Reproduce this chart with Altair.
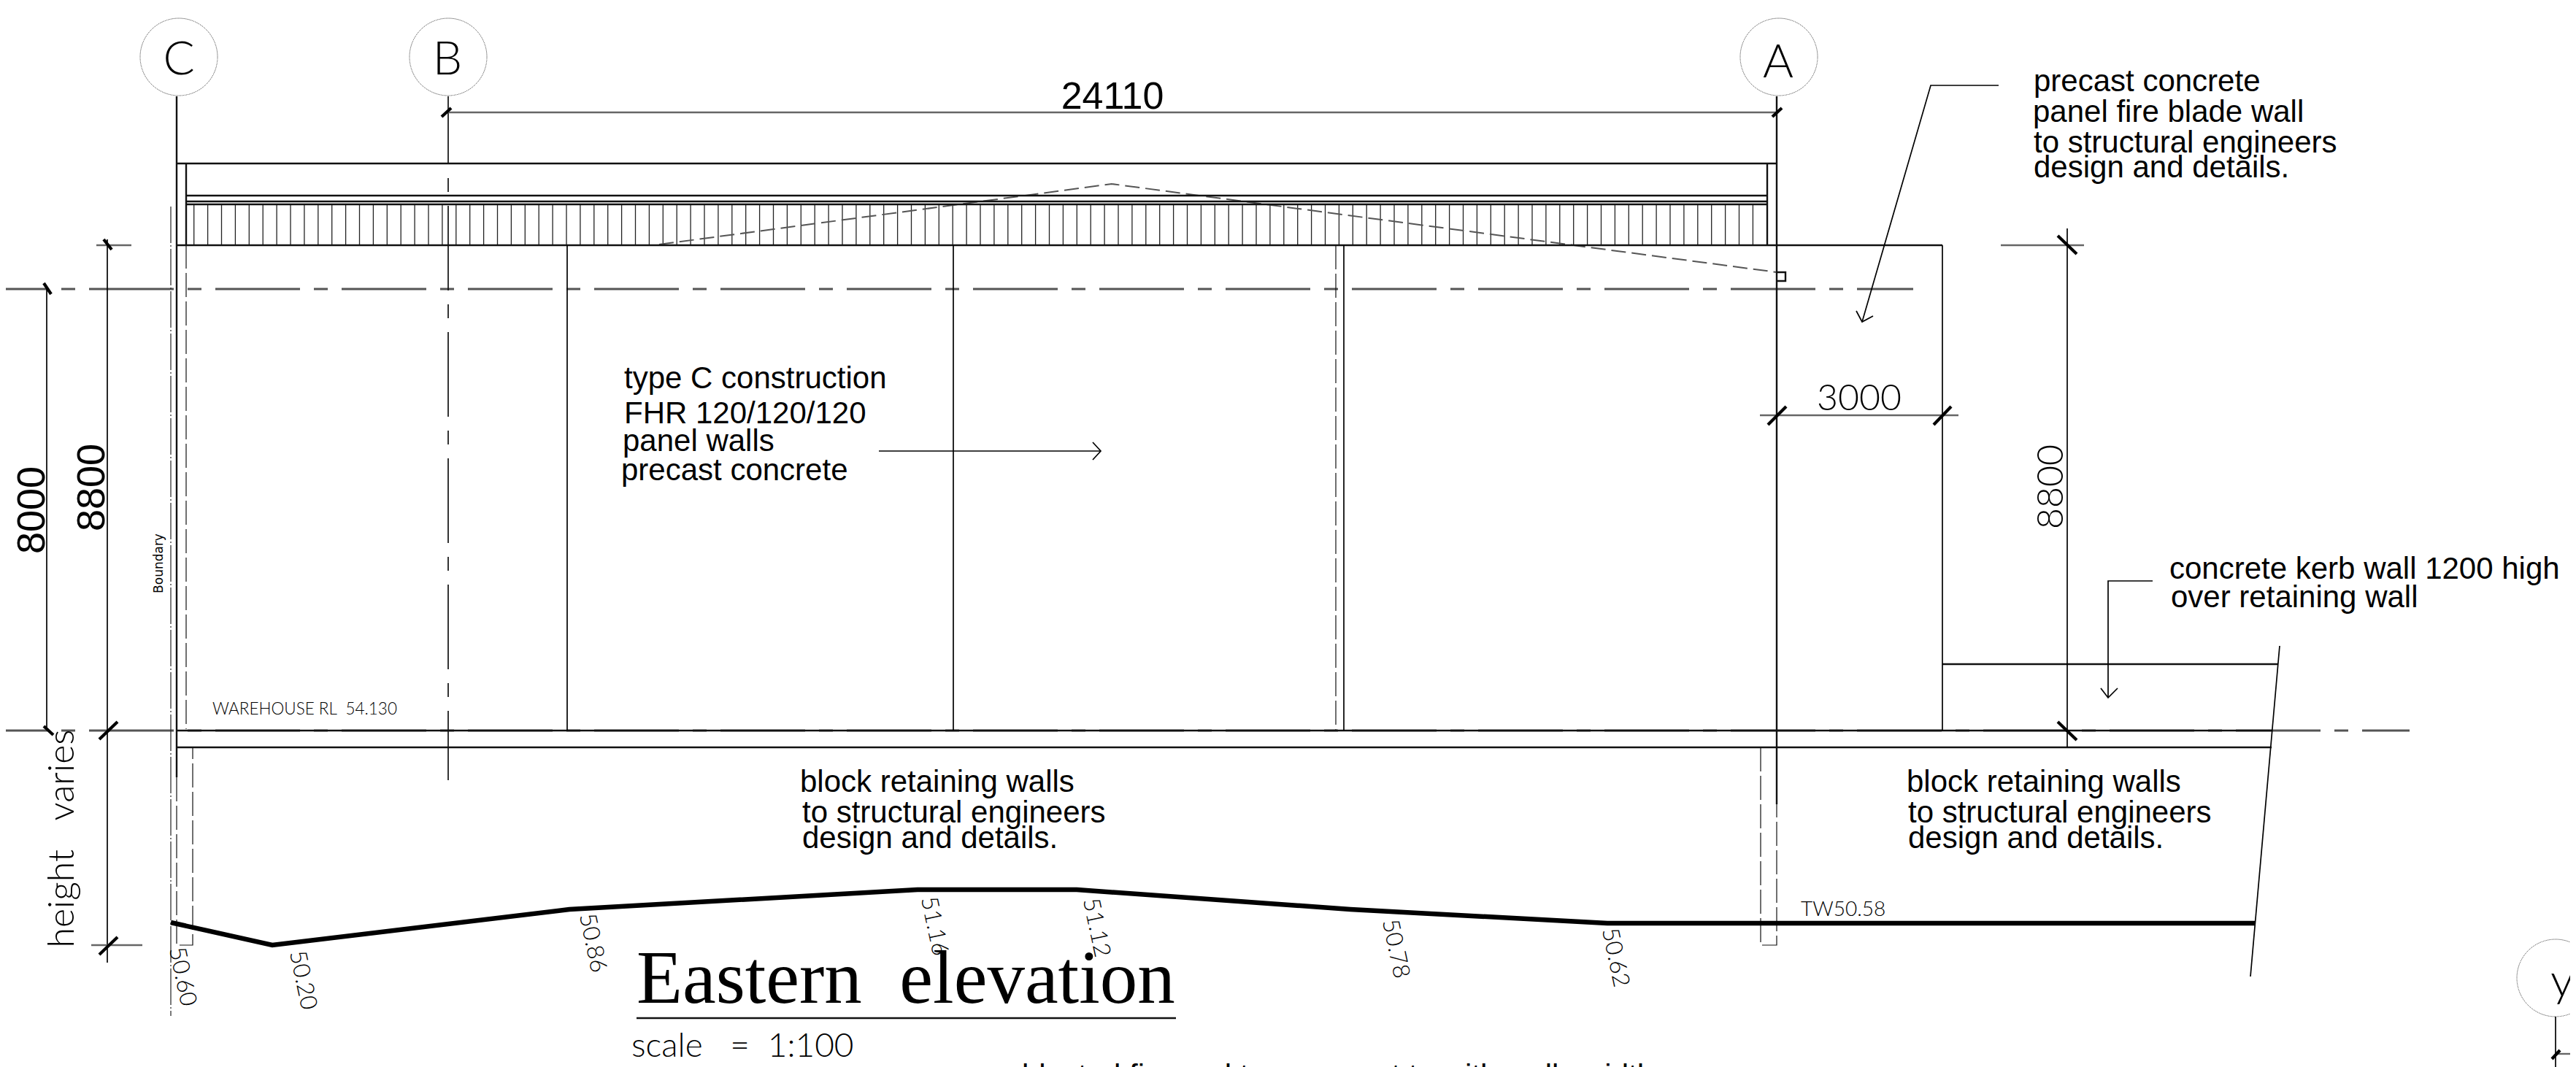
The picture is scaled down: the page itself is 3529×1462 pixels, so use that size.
import altair as alt
import pandas as pd

# ---- drawing values (pixel-space drawing units) ----
X0, X1, Y0, Y1 = 8, 3521, 8, 1462

hatch_x = [265.7, 284.6, 303.5, 322.4, 341.3, 360.2, 379.1, 398.0, 416.9, 435.8,
           454.7, 473.6, 492.5, 511.4, 530.3, 549.2, 568.1, 587.0, 605.9, 624.8,
           643.7, 662.6, 681.5, 700.4, 719.3, 738.2, 757.1, 776.0, 794.9, 813.8,
           832.7, 851.6, 870.5, 889.4, 908.3, 927.2, 946.1, 965.0, 983.9, 1002.8,
           1021.7, 1040.6, 1059.5, 1078.4, 1097.3, 1116.2, 1135.1, 1154.0, 1172.9, 1191.8,
           1210.7, 1229.6, 1248.5, 1267.4, 1286.3, 1305.2, 1324.1, 1343.0, 1361.9, 1380.8,
           1399.7, 1418.6, 1437.5, 1456.4, 1475.3, 1494.2, 1513.1, 1532.0, 1550.9, 1569.8,
           1588.7, 1607.6, 1626.5, 1645.4, 1664.3, 1683.2, 1702.1, 1721.0, 1739.9, 1758.8,
           1777.7, 1796.6, 1815.5, 1834.4, 1853.3, 1872.2, 1891.1, 1910.0, 1928.9, 1947.8,
           1966.7, 1985.6, 2004.5, 2023.4, 2042.3, 2061.2, 2080.1, 2099.0, 2117.9, 2136.8,
           2155.7, 2174.6, 2193.5, 2212.4, 2231.3, 2250.2, 2269.1, 2288.0, 2306.9, 2325.8,
           2344.7, 2363.6, 2382.5, 2401.4]

structure = [
    [(242, 132), (242, 1065)],
    [(2434, 132), (2434, 1102)],
    [(255, 224), (255, 336)],
    [(2421, 224), (2421, 336)],
    [(242, 224), (2434, 224)],
    [(255, 268), (2421, 268)],
    [(255, 276), (2421, 276)],
    [(255, 280), (2421, 280)],
    [(242, 336), (2661, 336)],
    [(242, 1001), (3112, 1001)],
    [(242, 1024), (3112, 1024)],
    [(2661, 910), (3121, 910)],
    [(872, 1395), (1611, 1395)],
    [(2434, 373), (2446, 373), (2446, 385), (2434, 385)],
]
thin = [
    [(777, 336), (777, 1001)],
    [(1306, 336), (1306, 1001)],
    [(1841, 336), (1841, 1001)],
    [(2661, 336), (2661, 1001)],
    [(3123, 885), (3083, 1338)],
    [(64, 396), (64, 1001)],
    [(147, 328), (147, 1319)],
    [(2832, 313), (2832, 1024)],
    [(3501, 1393), (3501, 1462)],
    [(2738, 117), (2645, 117), (2551, 441)],
    [(2543, 426), (2551, 441), (2566, 433)],
    [(2949, 796), (2888, 796), (2888, 956)],
    [(2878, 943), (2888, 956), (2901, 943)],
    [(1204, 618), (1508, 618)],
    [(1497, 606), (1508, 618), (1497, 630)],
]
dimension = [
    [(614, 154), (2434, 154)],
    [(2411, 569), (2683, 569)],
    [(132, 336), (180, 336)],
    [(125, 1295), (195, 1295)],
    [(2741, 336), (2855, 336)],
    [(3501, 1444), (3529, 1444)],
]
slashes = [
    [(605, 160), (618, 148)],
    [(2428, 160), (2441, 148)],
    [(60, 388), (70, 403)],
    [(142, 328), (153, 342)],
    [(136, 1013), (161, 989)],
    [(136, 1308), (161, 1284)],
    [(60, 995), (73, 1007)],
    [(2422, 582), (2447, 557)],
    [(2649, 582), (2673, 557)],
    [(2819, 323), (2845, 348)],
    [(2819, 989), (2845, 1014)],
    [(3496, 1451), (3507, 1439)],
]
centre_h = [[(0, 396), (2621, 396)], [(0, 1001), (3301, 1001)]]
centre_v = [[(614, 132), (614, 1069)]]
boundary_line = [[(234, 283), (234, 1392)]]
hidden = [
    [(255, 335), (255, 999)],
    [(1830, 336), (1830, 1001)],
    [(242, 1065), (242, 1295), (264, 1295), (264, 1024)],
    [(2412, 1024), (2412, 1295), (2434, 1295), (2434, 1102)],
]
roof_outline = [[(903, 335), (1523, 252), (2434, 373)]]
ground = [[(234, 1264), (373, 1295), (780, 1246), (1257, 1219), (1475, 1219),
           (1850, 1246), (2202, 1265), (3089, 1265)]]

grid_x = [245, 614, 2437, 3501]
grid_y = [78, 78, 78, 1340]
grid_t = ["C", "B", "A", "y"]
grid_tx = [245, 613, 2436, 3510]
grid_ty = [102, 102, 106, 1365]

notes_x = [2786, 2785, 2786, 2786, 855, 855, 853, 851, 1096, 1099, 1099, 2612, 2614, 2614, 2972, 2974]
notes_y = [125, 167, 209, 243, 532, 580, 618, 658, 1085, 1127, 1162, 1085, 1127, 1162, 793, 832]
notes_t = ["precast concrete", "panel fire blade wall", "to structural engineers", "design and details.",
           "type C construction", "FHR 120/120/120", "panel walls", "precast concrete",
           "block retaining walls", "to structural engineers", "design and details.",
           "block retaining walls", "to structural engineers", "design and details.",
           "concrete kerb wall 1200 high", "over retaining wall"]

levels_x = [250, 415, 812, 1280, 1502, 1912, 2213]
levels_y = [1338, 1343, 1292, 1269, 1271, 1300, 1312]
levels_t = ["50.60", "50.20", "50.86", "51.16", "51.12", "50.78", "50.62"]

xs = alt.Scale(domain=[X0, X1], range=[0, X1 - X0], clamp=False, nice=False, zero=False)
ys = alt.Scale(domain=[Y0, Y1], range=[0, Y1 - Y0], clamp=False, nice=False, zero=False)
X = lambda f="x": alt.X(f"{f}:Q", scale=xs, axis=None)
Y = lambda f="y": alt.Y(f"{f}:Q", scale=ys, axis=None)


def paths(rows, width, color="#000000", dash=None, offset=None, cap="butt"):
    recs = [{"id": i, "o": j, "x": p[0], "y": p[1]} for i, r in enumerate(rows) for j, p in enumerate(r)]
    kw = {"strokeWidth": width, "color": color, "strokeCap": cap, "strokeJoin": "miter", "clip": False}
    if dash:
        kw["strokeDash"] = dash
    if offset is not None:
        kw["strokeDashOffset"] = offset
    return alt.Chart(pd.DataFrame(recs)).mark_line(**kw).encode(
        x=X(), y=Y(), detail="id:N", order="o:Q")


def label(xv, yv, tv, size, font="Liberation Sans", color="#000000", align="left", angle=None,
          baseline="alphabetic", weight=None):
    kw = {"fontSize": size, "font": font, "color": color, "align": align, "baseline": baseline}
    if angle is not None:
        kw["angle"] = angle
    if weight is not None:
        kw["fontWeight"] = weight
    return alt.Chart(pd.DataFrame({"x": xv, "y": yv, "t": tv})).mark_text(**kw).encode(
        x=X(), y=Y(), text="t:N")


hatch = alt.Chart(pd.DataFrame({"x": hatch_x, "y": 280, "y2": 336})).mark_rule(
    strokeWidth=1.3, color="#222222").encode(x=X(), y=Y(), y2="y2:Q")

circles = alt.Chart(pd.DataFrame({"x": grid_x, "y": grid_y})).mark_point(
    shape="circle", size=11236, filled=False, strokeWidth=1, strokeDash=[1, 1],
    color="#333333", opacity=1).encode(x=X(), y=Y())

layers = [
    circles,
    hatch,
    paths(centre_h, 3, "#555555", [116, 19, 19, 19], 51),
    paths(centre_v, 1.7, "#111111", [116, 19, 19, 19], 23),
    paths(boundary_line, 1.2, "#222222", [50, 3, 2, 3]),
    paths(hidden, 1.2, "#111111", [33, 6]),
    paths(roof_outline, 2, "#555555", [20, 8]),
    paths(structure, 2.4, "#111111"),
    paths(thin, 1.7, "#000000"),
    paths(dimension, 2.4, "#666666"),
    paths(slashes, 4.2, "#000000"),
    paths(ground, 6.5, "#000000"),
    label(grid_tx, grid_ty, grid_t, 64, "Lato", align="center", weight=300),
    label(notes_x, notes_y, notes_t, 42),
    label([1524], [149], ["24110"], 52, align="center"),
    label([61], [699], ["8000"], 54, align="center", angle=270),
    label([143], [668], ["8800"], 54, align="center", angle=270),
    label([2547], [562], ["3000"], 50, "Lato", "#000000", "center", weight=300),
    label([2826], [667], ["8800"], 50, "Lato", "#000000", "center", 270, weight=300),
    label([101], [1149], ["height\u00a0\u00a0\u00a0varies"], 50, "Lato", "#000000", "center", 270, weight=300),
    label([223], [772], ["Boundary"], 17, "DejaVu Sans", angle=270, align="center"),
    label([291], [979], ["WAREHOUSE RL\u00a0\u00a054.130"], 22.5, "Lato", "#000000", weight=300),
    label(levels_x, levels_y, levels_t, 32, "Lato", "#000000", "center", 78, "middle", 300),
    label([872], [1374], ["Eastern\u00a0\u00a0elevation"], 103, "Liberation Serif"),
    label([865], [1448], ["scale\u00a0\u00a0\u00a0=\u00a0\u00a01:100"], 46, "Lato", "#000000", weight=300),
    label([2467], [1255], ["TW50.58"], 28, "Lato", "#000000", weight=300),
    label([1400], [1488], ["blasted fire and to comment to with walls width"], 42),
]

chart = alt.layer(*layers).properties(
    width=X1 - X0, height=Y1 - Y0,
    autosize=alt.AutoSizeParams(type="none"), padding=0,
    background="#ffffff",
).configure_view(stroke=None)

chart.save("out.html", embed_options={"renderer": "svg", "actions": False})
